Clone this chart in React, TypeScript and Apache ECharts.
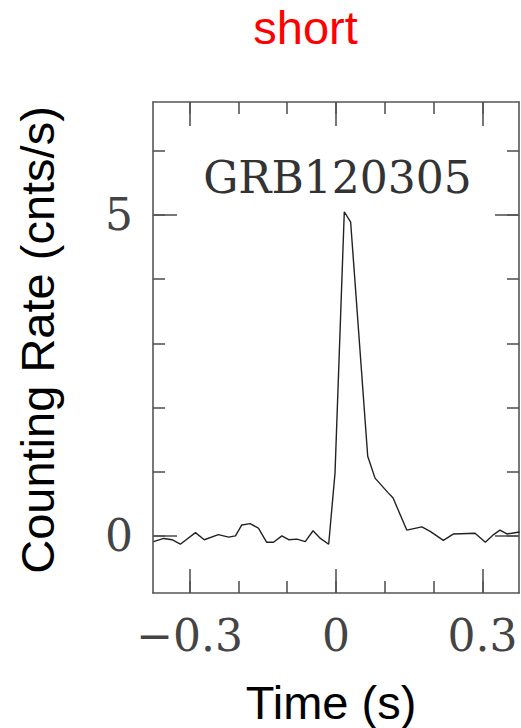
import React, { useEffect, useRef } from "react";
import * as echarts from "echarts";

const titleText = "short";
const burstName = "GRB120305";
const xAxisTitle = "Time (s)";
const yAxisTitle = "Counting Rate (cnts/s)";

const timeValues = [
  -0.374, -0.353, -0.336, -0.319, -0.288, -0.27, -0.241, -0.22, -0.206, -0.193,
  -0.176, -0.159, -0.142, -0.128, -0.111, -0.097, -0.08, -0.063, -0.047, -0.032,
  -0.015, -0.002, 0.017, 0.03, 0.065, 0.08, 0.107, 0.117, 0.145, 0.176, 0.193,
  0.22, 0.241, 0.285, 0.306, 0.323, 0.336, 0.35, 0.36, 0.376,
];
const rateValues = [
  -0.09, -0.04, -0.06, -0.13, 0.05, -0.06, 0.02, -0.02, 0.0, 0.17,
  0.19, 0.12, -0.1, -0.1, 0.0, -0.06, -0.05, -0.09, 0.08, -0.04,
  -0.13, 0.98, 5.05, 4.89, 1.24, 0.9, 0.67, 0.59, 0.09, 0.14, 0.07,
  -0.07, 0.03, 0.04, -0.1, 0.02, 0.09, 0.03, 0.04, 0.06,
];

const xMinorTicks = [-0.3, -0.2, -0.1, 0, 0.1, 0.2, 0.3];
const xMajorTicks = [-0.3, 0, 0.3];
const yMinorTicks = [0, 1, 2, 3, 4, 5, 6];
const yMajorTicks = [0, 5];

const X_MIN = -0.375;
const X_MAX = 0.375;
const Y_MIN = -0.89;
const Y_MAX = 6.76;

const FRAME = "#555";
const SERIF = "DejaVu Serif";
const SANS = "Liberation Sans";

function fmtX(v: number): string {
  if (Math.abs(v) < 1e-9) return "0";
  const s = Math.abs(v).toFixed(1);
  return v < 0 ? "\u2212" + s : s;
}

export default function App() {
  const ref = useRef<HTMLDivElement>(null);
  useEffect(() => {
    if (!ref.current) return;
    const chart = echarts.init(ref.current, null, { renderer: "svg" });
    const data = timeValues.map((t, i) => [t, rateValues[i]]);

    const baseX = (position: string, ticks: number[], len: number, showLine: boolean, labels: boolean) => ({
      type: "value",
      position,
      min: X_MIN,
      max: X_MAX,
      axisLine: { show: showLine, onZero: false, lineStyle: { color: FRAME, width: 1.6 } },
      axisTick: { show: true, inside: true, length: len, customValues: ticks, lineStyle: { color: FRAME, width: 1.6 } },
      axisLabel: labels
        ? {
            show: true,
            customValues: xMajorTicks,
            formatter: (v: number) => fmtX(v),
            fontFamily: SERIF,
            fontSize: 44,
            color: "#444",
            margin: 20,
          }
        : { show: false },
      splitLine: { show: false },
    });
    const baseY = (position: string, ticks: number[], len: number, showLine: boolean, labels: boolean) => ({
      type: "value",
      position,
      min: Y_MIN,
      max: Y_MAX,
      axisLine: { show: showLine, onZero: false, lineStyle: { color: FRAME, width: 1.6 } },
      axisTick: { show: true, inside: true, length: len, customValues: ticks, lineStyle: { color: FRAME, width: 1.6 } },
      axisLabel: labels
        ? {
            show: true,
            customValues: yMajorTicks,
            formatter: (v: number) => String(Math.round(v)),
            fontFamily: SERIF,
            fontSize: 44,
            color: "#444",
            margin: 20,
          }
        : { show: false },
      splitLine: { show: false },
    });

    chart.setOption({
      animation: false,
      backgroundColor: "#fff",
      grid: { left: 153, right: 2, top: 102, bottom: 135, containLabel: false },
      xAxis: [
        baseX("bottom", xMinorTicks, 12, true, true),
        baseX("bottom", xMajorTicks, 24, false, false),
        baseX("top", xMinorTicks, 12, true, false),
        baseX("top", xMajorTicks, 24, false, false),
      ],
      yAxis: [
        baseY("left", yMinorTicks, 12, true, true),
        baseY("left", yMajorTicks, 24, false, false),
        baseY("right", yMinorTicks, 12, true, false),
        baseY("right", yMajorTicks, 24, false, false),
      ],
      series: [
        {
          type: "line",
          data,
          xAxisIndex: 0,
          yAxisIndex: 0,
          showSymbol: false,
          symbol: "none",
          clip: true,
          lineStyle: { color: "#222", width: 1.4 },
        },
      ],
      graphic: [
        {
          type: "text",
          x: 305.5,
          y: 27,
          style: { text: titleText, fill: "#ff0000", font: `47px "${SANS}"`, align: "center", verticalAlign: "middle" },
        },
        {
          type: "text",
          x: 337.5,
          y: 177,
          style: { text: burstName, fill: "#333", font: `44px "${SERIF}"`, align: "center", verticalAlign: "middle" },
        },
        {
          type: "text",
          x: 331,
          y: 702,
          style: { text: xAxisTitle, fill: "#000", font: `47px "${SANS}"`, align: "center", verticalAlign: "middle" },
        },
        {
          type: "text",
          x: 37,
          y: 340,
          rotation: Math.PI / 2,
          style: { text: yAxisTitle, fill: "#000", font: `47px "${SANS}"`, align: "center", verticalAlign: "middle" },
        },
      ],
    });
    return () => chart.dispose();
  }, []);
  return <div ref={ref} style={{ position: "fixed", left: 0, top: 0, width: 521, height: 728 }} />;
}
